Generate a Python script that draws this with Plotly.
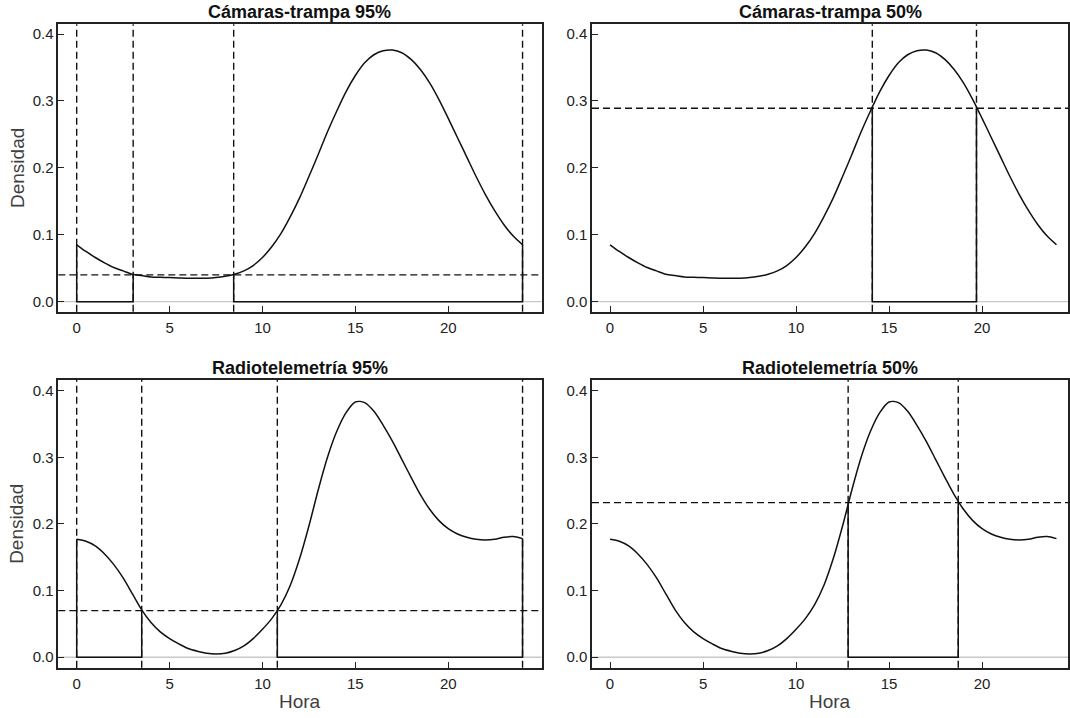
import numpy as np
import plotly.graph_objects as go

# ---------------- data ----------------
hours_cam = [0, 0.5, 1, 1.5, 2, 2.5, 3, 3.5, 4, 4.5, 5, 5.5, 6, 6.5, 7, 7.5, 8, 8.5, 9, 9.5, 10, 10.5, 11, 11.5,
             12, 12.5, 13, 13.5, 14, 14.5, 15, 15.5, 16, 16.5, 17, 17.5, 18, 18.5, 19, 19.5, 20, 20.5, 21, 21.5,
             22, 22.5, 23, 23.5, 24]
dens_cam = [0.085, 0.075, 0.066, 0.058, 0.051, 0.046, 0.041, 0.039, 0.037, 0.0365, 0.036, 0.0355, 0.035, 0.035,
            0.035, 0.036, 0.038, 0.041, 0.046, 0.054, 0.066, 0.082, 0.102, 0.127, 0.155, 0.187, 0.220, 0.254,
            0.285, 0.314, 0.338, 0.357, 0.369, 0.375, 0.376, 0.372, 0.362, 0.347, 0.327, 0.302, 0.274, 0.245,
            0.216, 0.187, 0.160, 0.136, 0.115, 0.098, 0.085]

hours_rad = [0, 0.5, 1, 1.5, 2, 2.5, 3, 3.5, 4, 4.5, 5, 5.5, 6, 6.5, 7, 7.5, 8, 8.5, 9, 9.5, 10, 10.5, 11, 11.5,
             12, 12.5, 13, 13.5, 14, 14.5, 15, 15.5, 16, 16.5, 17, 17.5, 18, 18.5, 19, 19.5, 20, 20.5, 21, 21.5,
             22, 22.5, 23, 23.5, 24]
dens_rad = [0.177, 0.174, 0.167, 0.155, 0.139, 0.119, 0.095, 0.071, 0.052, 0.038, 0.028, 0.020, 0.013, 0.009,
            0.006, 0.005, 0.006, 0.010, 0.017, 0.028, 0.042, 0.058, 0.079, 0.108, 0.148, 0.197, 0.251, 0.300,
            0.339, 0.367, 0.383, 0.382, 0.369, 0.348, 0.324, 0.297, 0.270, 0.244, 0.222, 0.205, 0.193, 0.185,
            0.180, 0.177, 0.176, 0.177, 0.180, 0.181, 0.178]

titles = ["Cámaras-trampa 95%", "Cámaras-trampa 50%", "Radiotelemetría 95%", "Radiotelemetría 50%"]
thresholds = [0.040, 0.289, 0.070, 0.232]
intervals = [
    [(0, 3.04), (8.45, 24)],
    [(14.1, 19.7)],
    [(0, 3.5), (10.8, 24)],
    [(12.8, 18.72)],
]
x_ticks = [0, 5, 10, 15, 20]
y_ticks = [0.0, 0.1, 0.2, 0.3, 0.4]

# ---------------- layout geometry ----------------
W, H = 1070, 718
xdoms = [[58.3 / W, 541.5 / W], [592 / W, 1068 / W]]
ydoms = [[1 - 311.7 / H, 1 - 24.3 / H], [1 - 667.7 / H, 1 - 380 / H]]
xranges = [[-0.99, 25.02], [-0.97, 24.62]]
yranges = [[-0.015, 0.4145], [-0.0157, 0.416]]

FONT = "Liberation Sans, Arial, sans-serif"
fig = go.Figure()

shapes = []
annotations = []
for i in range(4):
    r, c = divmod(i, 2)
    hx = hours_cam if r == 0 else hours_rad
    dy = dens_cam if r == 0 else dens_rad
    xa = "x" if i == 0 else f"x{i+1}"
    ya = "y" if i == 0 else f"y{i+1}"
    xname = "xaxis" if i == 0 else f"xaxis{i+1}"
    yname = "yaxis" if i == 0 else f"yaxis{i+1}"

    # gray zero line
    shapes.append(dict(type="line", xref=f"{xa} domain", yref=ya, x0=0, x1=1, y0=0, y1=0,
                       line=dict(color="#c8c8c8", width=1.3), layer="below"))
    # horizontal dashed threshold
    shapes.append(dict(type="line", xref=f"{xa} domain", yref=ya, x0=0, x1=1,
                       y0=thresholds[i], y1=thresholds[i],
                       line=dict(color="#111", width=1.4, dash="7px,4px")))
    # dashed verticals at interval bounds
    for (a, b) in intervals[i]:
        for v in (a, b):
            shapes.append(dict(type="line", xref=xa, yref=f"{ya} domain", x0=v, x1=v, y0=0, y1=1,
                               line=dict(color="#111", width=1.4, dash="7px,4px")))

    # density curve
    fig.add_trace(go.Scatter(x=hx, y=dy, mode="lines",
                             line=dict(color="#111", width=1.5, shape="spline", smoothing=0.8),
                             xaxis=xa, yaxis=ya, showlegend=False, hoverinfo="skip"))
    # solid interval outlines
    for (a, b) in intervals[i]:
        fa = float(np.interp(a, hx, dy))
        fb = float(np.interp(b, hx, dy))
        fa = max(fa, thresholds[i]) if a in (0, 24) else thresholds[i]
        fb = max(fb, thresholds[i]) if b in (0, 24) else thresholds[i]
        fig.add_trace(go.Scatter(x=[a, a, b, b], y=[fa, 0, 0, fb], mode="lines",
                                 line=dict(color="#111", width=1.5),
                                 xaxis=xa, yaxis=ya, showlegend=False, hoverinfo="skip"))

    axis_common = dict(showline=True, mirror=True, linecolor="#222", linewidth=1.5,
                       ticks="inside", ticklen=6, tickwidth=1.2, tickcolor="#222",
                       showgrid=False, zeroline=False,
                       tickfont=dict(family=FONT, size=15, color="#222"))
    fig.update_layout({
        xname: dict(domain=xdoms[c], range=xranges[c], anchor=ya, tickvals=x_ticks,
                    ticktext=[str(t) for t in x_ticks], ticklabelstandoff=2, **axis_common),
        yname: dict(domain=ydoms[r], range=yranges[r], anchor=xa, tickvals=y_ticks,
                    ticktext=[f"{t:.1f}" for t in y_ticks], ticklabelstandoff=0, **axis_common),
    })

    # panel title
    xc = (xdoms[c][0] + xdoms[c][1]) / 2
    annotations.append(dict(text=f"<b>{titles[i]}</b>", xref="paper", yref="paper", x=xc,
                            y=ydoms[r][1] + 12.5 / H, xanchor="center", yanchor="middle", showarrow=False,
                            font=dict(family=FONT, size=18, color="#111")))
    if c == 0:
        yc = (ydoms[r][0] + ydoms[r][1]) / 2
        annotations.append(dict(text="Densidad", xref="paper", yref="paper", x=17 / W, y=yc,
                                xanchor="center", yanchor="middle", textangle=-90, showarrow=False,
                                font=dict(family=FONT, size=19, color="#404040")))
    if r == 1:
        annotations.append(dict(text="Hora", xref="paper", yref="paper", x=xc, y=1 - 701 / H,
                                xanchor="center", yanchor="middle", showarrow=False,
                                font=dict(family=FONT, size=19, color="#404040")))

fig.update_layout(width=W, height=H, margin=dict(l=0, r=0, t=0, b=0),
                  paper_bgcolor="white", plot_bgcolor="white",
                  shapes=shapes, annotations=annotations, showlegend=False)

fig.write_html("out.html")
